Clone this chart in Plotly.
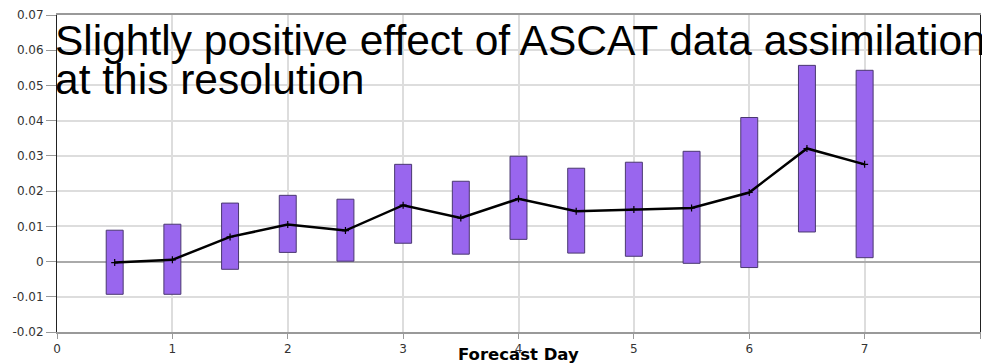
import plotly.graph_objects as go

days = [0.5, 1.0, 1.5, 2.0, 2.5, 3.0, 3.5, 4.0, 4.5, 5.0, 5.5, 6.0, 6.5, 7.0]
bar_top = [0.0089, 0.0106, 0.0166, 0.0188, 0.0177, 0.0276, 0.0228, 0.0299, 0.0265, 0.0282, 0.0313, 0.0409, 0.0557, 0.0543]
bar_bottom = [-0.0093, -0.0093, -0.0022, 0.0026, 0.0001, 0.0052, 0.0021, 0.0063, 0.0024, 0.0015, -0.0005, -0.0017, 0.0084, 0.0011]
mean_vals = [-0.0003, 0.0005, 0.0070, 0.0105, 0.0088, 0.0160, 0.0124, 0.0178, 0.0143, 0.0148, 0.0152, 0.0196, 0.0321, 0.0276]

y_tickvals = [-0.02, -0.01, 0, 0.01, 0.02, 0.03, 0.04, 0.05, 0.06, 0.07]
y_ticktext = ["-0.02", "-0.01", "0", "0.01", "0.02", "0.03", "0.04", "0.05", "0.06", "0.07"]
x_tickvals = [0, 1, 2, 3, 4, 5, 6, 7, 8]

title_lines = ["Slightly positive effect of ASCAT data assimilation", "at this resolution"]
x_title = "Forecast Day"

fig = go.Figure()
fig.add_trace(go.Bar(
    x=days,
    y=[t - b for t, b in zip(bar_top, bar_bottom)],
    base=bar_bottom,
    width=0.147,
    marker=dict(color="#9966EE", line=dict(color="#4a3870", width=1)),
    showlegend=False,
))
fig.add_trace(go.Scatter(
    x=days, y=mean_vals, mode="lines+markers",
    line=dict(color="black", width=2.5),
    marker=dict(symbol="cross-thin", size=5, line=dict(color="black", width=1.2)),
    showlegend=False,
))

fig.update_layout(
    width=982, height=363,
    margin=dict(l=57, r=2, t=15, b=31),
    plot_bgcolor="white", paper_bgcolor="white",
    font=dict(family="DejaVu Sans, Verdana, sans-serif", color="#333", size=12),
    xaxis=dict(
        range=[0, 8], tickvals=x_tickvals, showgrid=True, gridcolor="#dddddd", gridwidth=1.5,
        showline=True, linecolor="#999999", linewidth=2, mirror=True,
        ticks="outside", ticklen=5, tickcolor="#999999",
        zeroline=False, automargin=False,
    ),
    yaxis=dict(
        range=[-0.02, 0.07], tickvals=y_tickvals, ticktext=y_ticktext,
        showgrid=True, gridcolor="#dddddd", gridwidth=1.5,
        showline=True, linecolor="#222222", linewidth=1, mirror=True,
        ticks="outside", ticklen=10, tickcolor="#999999",
        zeroline=True, zerolinecolor="#aaaaaa", zerolinewidth=2, automargin=False,
    ),
    annotations=[
        dict(text=title_lines[0], xref="paper", yref="paper", x=-0.004, y=0.918,
             xanchor="left", yanchor="middle", showarrow=False,
             font=dict(family="Liberation Sans, Arial, sans-serif", size=42.5, color="black")),
        dict(text=title_lines[1], xref="paper", yref="paper", x=-0.004, y=0.798,
             xanchor="left", yanchor="middle", showarrow=False,
             font=dict(family="Liberation Sans, Arial, sans-serif", size=42.5, color="black")),
        dict(text=x_title, xref="paper", yref="paper", x=0.5, y=-0.070,
             xanchor="center", yanchor="middle", showarrow=False,
             font=dict(family="DejaVu Sans, Verdana, sans-serif", size=16.5, color="black", weight="bold")),
    ],
)

fig.write_html("out.html")
